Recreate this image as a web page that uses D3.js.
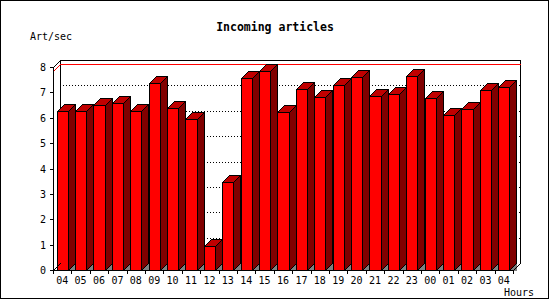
<!DOCTYPE html>
<meta charset="utf-8">
<script src="https://d3js.org/d3.v7.min.js"></script>
<style>
  body { margin: 0; background: #fff; }
  text { font-family: "DejaVu Sans Mono", monospace; }
</style>
<div id="chart"></div>
<script>

// hours on the x axis (one day, 04 to 04)
var hours = ["04", "05", "06", "07", "08", "09", "10", "11", "12", "13", "14", "15",
             "16", "17", "18", "19", "20", "21", "22", "23", "00", "01", "02", "03", "04"];

// incoming articles per second
var artPerSec = [6.28, 6.28, 6.52, 6.59, 6.28, 7.38, 6.40, 5.97, 0.96, 3.45, 7.58, 7.85,
                 6.24, 7.15, 6.81, 7.30, 7.62, 6.87, 6.95, 7.66, 6.79, 6.12, 6.36, 7.11, 7.22];

var yTicks = [0, 1, 2, 3, 4, 5, 6, 7, 8];

var width = 550, height = 300;
var depth = 7;                        // 3d offset, right and up
var plotL = 53, plotR = 513;          // front plane
var plotB = 270, plotT = 67;

var svg = d3.select("#chart")
  .append("svg")
    .attr("width", width)
    .attr("height", height)
    .attr("shape-rendering", "crispEdges");

// outer frame
svg.append("rect")
  .attr("x", 0.5).attr("y", 0.5)
  .attr("width", 548).attr("height", 298)
  .attr("fill", "#fff").attr("stroke", "#000");

var slot = d3.scaleBand()
  .domain(d3.range(hours.length))
  .range([plotL, plotR]);

var bar = slot.copy()
  .paddingInner(0.4)
  .paddingOuter(0.2);

var y = d3.scaleLinear()
  .domain([0, 8])
  .rangeRound([plotB, plotT]);

function p(v) { return Math.round(v) + 0.5; }

// back plane
var bTop = y(8) - depth, bBottom = plotB - depth;
svg.append("path")
  .attr("d", "M" + p(plotL + depth) + "," + p(bBottom) +
             "V" + p(bTop) + "H" + p(plotR + depth) + "V" + p(bBottom))
  .attr("fill", "none").attr("stroke", "#000");

// dotted grid
yTicks.filter(function(d) { return d > 0 && d < 8; }).forEach(function(d) {
  var yy = y(d);
  svg.append("path")
    .attr("d", "M" + p(plotL) + "," + p(yy) + "L" + p(plotL + depth) + "," + p(yy - depth) +
               "H" + p(plotR + depth))
    .attr("fill", "none").attr("stroke", "#000")
    .attr("stroke-dasharray", "1,2");
});

// max line in red
var yMax = y(d3.max(artPerSec));
svg.append("path")
  .attr("d", "M" + p(plotL) + "," + p(yMax) + "L" + p(plotL + depth) + "," + p(yMax - depth) +
             "H" + p(plotR + depth))
  .attr("fill", "none").attr("stroke", "#f00");

// bars
var g = svg.append("g").attr("stroke", "#000").attr("stroke-linejoin", "miter");
artPerSec.forEach(function(v, i) {
  var xl = Math.round(bar(i)), xr = Math.round(bar(i) + bar.bandwidth());
  var yt = y(v), yb = plotB;
  // floor shadow
  g.append("polygon")
    .attr("points", [[xr + .5, yb + .5], [xr + depth + .5, yb - depth + .5], [xr + depth + .5, yb + .5]].join(" "))
    .attr("fill", "#808080").attr("stroke", "none");
  g.append("polygon")
    .attr("points", [[xr + .5, yt + .5], [xr + depth + .5, yt - depth + .5],
                     [xr + depth + .5, yb - depth + .5], [xr + .5, yb + .5]].join(" "))
    .attr("fill", "#800000");
  g.append("polygon")
    .attr("points", [[xl + .5, yt + .5], [xl + depth + .5, yt - depth + .5],
                     [xr + depth + .5, yt - depth + .5], [xr + .5, yt + .5]].join(" "))
    .attr("fill", "#c00000");
  g.append("rect")
    .attr("x", xl + .5).attr("y", yt + .5)
    .attr("width", xr - xl).attr("height", yb - yt)
    .attr("fill", "#f00");
});

// front axes
svg.append("path")
  .attr("d", "M" + p(plotL + depth) + "," + p(bTop) + "L" + p(plotL) + "," + p(y(8)) +
             "V" + p(plotB) + "H" + p(plotR) + "L" + p(plotR + depth) + "," + p(bBottom))
  .attr("fill", "none").attr("stroke", "#000");
svg.append("path")
  .attr("d", "M" + p(plotL) + "," + p(plotB) + "L" + p(plotL + depth) + "," + p(bBottom))
  .attr("fill", "none").attr("stroke", "#000");

// y axis ticks and labels
var yAxis = svg.append("g")
  .attr("transform", "translate(" + plotL + ",0)")
  .call(d3.axisLeft(y).tickValues(yTicks).tickSize(3).tickPadding(4));
yAxis.select(".domain").remove();
yAxis.attr("font-family", null).attr("font-size", 10);
yAxis.selectAll("text").attr("fill", "#000");

// x ticks at slot boundaries
d3.range(hours.length + 1).forEach(function(i) {
  var xx = i < hours.length ? slot(i) : plotR;
  svg.append("line")
    .attr("x1", p(xx)).attr("x2", p(xx))
    .attr("y1", plotB).attr("y2", plotB + 4)
    .attr("stroke", "#000");
});

var xAxis = svg.append("g")
  .attr("transform", "translate(0," + plotB + ")")
  .call(d3.axisBottom(slot).tickFormat(function(i) { return hours[i]; })
    .tickSize(0).tickPadding(6.5));
xAxis.select(".domain").remove();
xAxis.attr("font-family", null).attr("font-size", 10);
xAxis.selectAll("text").attr("fill", "#000");

// titles
svg.append("text")
  .attr("x", 275).attr("y", 31)
  .attr("text-anchor", "middle")
  .attr("font-size", 11.5).attr("font-weight", "bold")
  .text("Incoming articles");

svg.append("text")
  .attr("x", 30).attr("y", 40)
  .attr("font-size", 10)
  .text("Art/sec");

svg.append("text")
  .attr("x", 504).attr("y", 296)
  .attr("font-size", 10)
  .text("Hours");

</script>
